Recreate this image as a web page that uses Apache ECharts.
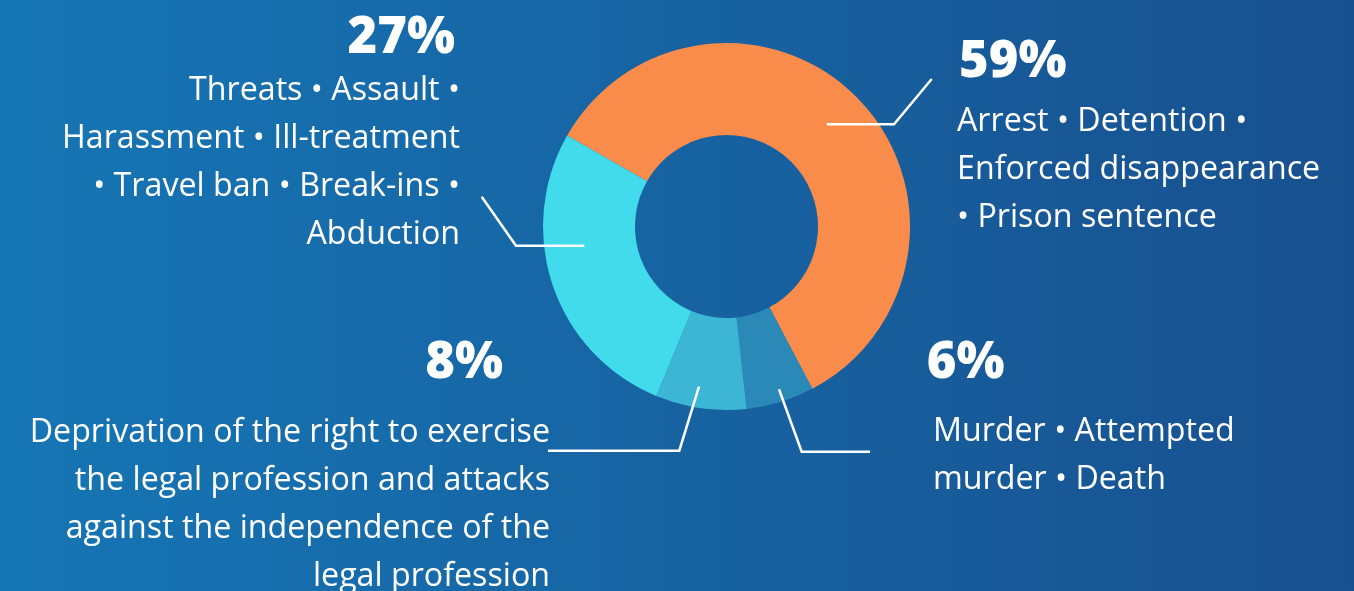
<!DOCTYPE html>
<html><head><meta charset="utf-8">
<script src="https://cdn.jsdelivr.net/npm/echarts@6/dist/echarts.min.js"></script>
<style>html,body{margin:0;padding:0;width:1354px;height:591px;overflow:hidden}
#c{width:1354px;height:591px}</style></head>
<body><div id="c"></div>
<script>
const values = [59, 6, 8, 27];
const categories = ['Arrest / detention', 'Murder', 'Deprivation of the right', 'Threats / assault'];
const descriptions = [
  ['Arrest • Detention •', 'Enforced disappearance', '• Prison sentence'],
  ['Murder • Attempted', 'murder • Death'],
  ['Deprivation of the right to exercise', 'the legal profession and attacks', 'against the independence of the', 'legal profession'],
  ['Threats • Assault •', 'Harassment • Ill-treatment', '• Travel ban • Break-ins •', 'Abduction']
];
const colors = ['#FA8C4B', '#2A89B7', '#3DB5D5', '#41DBEB'];

const cv = document.createElement('canvas').getContext('2d');
function fm(weight, family, size) {
  cv.font = weight + ' ' + size + 'px "' + family + '"';
  cv.textBaseline = 'alphabetic';
  const cap = cv.measureText('H').actualBoundingBoxAscent;
  cv.textBaseline = 'middle';
  const mid = cv.measureText('H').actualBoundingBoxAscent;
  return {cap: cap, drop: cap - mid};
}

const BODY_FAMILY = 'Open Sans', PCT_FAMILY = 'Open Sans', PCT_WEIGHT = 800;
const bodySize = 23.5 / (fm('normal', BODY_FAMILY, 100).cap / 100);
const bodyDrop = fm('normal', BODY_FAMILY, bodySize).drop;
const pctSize = 36.5 / (fm(PCT_WEIGHT, PCT_FAMILY, 100).cap / 100);
const pctDrop = fm(PCT_WEIGHT, PCT_FAMILY, pctSize).drop;
const LINE_H = 48;

// label layout (pixels): x anchor, first baseline, alignment
const pctLayout = [[959, 76.7, 'left'], [926.7, 378.3, 'left'], [503, 378, 'right'], [455, 52.7, 'right']];
const bodyLayout = [[957, 131, 'left'], [933, 440.7, 'left'], [550, 441.7, 'right'], [460, 100, 'right']];
const guideLayout = [
  [[826.7, 124.3], [894, 124.3], [931.7, 79]],
  [[779, 389.3], [801.7, 451.7], [870, 451.7]],
  [[699, 386.7], [679.3, 450.7], [548, 450.7]],
  [[584.3, 245.7], [516, 245.7], [481.7, 196.7]]
];

const chart = echarts.init(document.getElementById('c'), null, {renderer: 'canvas'});
const common = {
  type: 'pie', center: [726.5, 226.5], radius: [91.5, 183.5], startAngle: 150.3,
  clockwise: true, avoidLabelOverlap: false, animation: false, emphasis: {disabled: true}
};
chart.setOption({
  backgroundColor: {type: 'linear', x: 0, y: 0, x2: 1, y2: 0, colorStops: [{offset: 0, color: '#1676B5'}, {offset: 1, color: '#18508F'}]},
  series: [
    Object.assign({}, common, {
      name: 'slices', z: 2,
      data: values.map((v, i) => ({value: v, name: categories[i], itemStyle: {color: colors[i]}})),
      label: {show: true, position: 'outside', color: '#fff', fontFamily: PCT_FAMILY, fontWeight: PCT_WEIGHT, fontSize: pctSize, lineHeight: pctSize,
        formatter: '{c}%'},
      labelLine: {show: false},
      labelLayout: p => {
        const b = pctLayout[p.dataIndex];
        return {x: b[0], y: b[1] - pctSize / 2 - pctDrop, align: b[2], verticalAlign: 'top'};
      }
    }),
    Object.assign({}, common, {
      name: 'descriptions', z: 3, silent: true,
      data: values.map((v, i) => ({value: v, name: categories[i], itemStyle: {color: 'rgba(0,0,0,0)'}})),
      label: {show: true, position: 'outside', color: '#fff', fontFamily: BODY_FAMILY, fontSize: bodySize, lineHeight: LINE_H,
        formatter: p => descriptions[p.dataIndex].join('\n')},
      labelLine: {show: true, lineStyle: {color: '#fff', width: 2.5}},
      labelLayout: p => {
        const b = bodyLayout[p.dataIndex];
        return {x: b[0], y: b[1] - LINE_H / 2 - bodyDrop, align: b[2], verticalAlign: 'top', labelLinePoints: guideLayout[p.dataIndex]};
      }
    })
  ]
});
</script></body></html>
